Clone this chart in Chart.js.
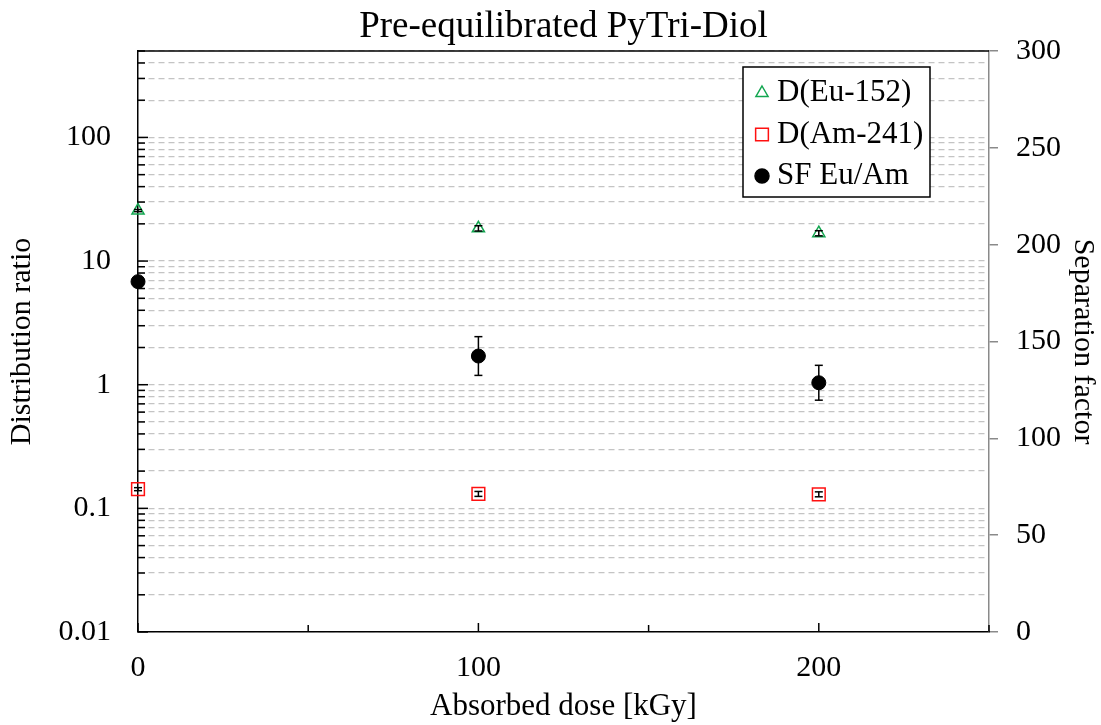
<!DOCTYPE html>
<html>
<head>
<meta charset="utf-8">
<script src="https://cdn.jsdelivr.net/npm/chart.js@4.4.1/dist/chart.umd.min.js"></script>
<style>
  html, body { margin: 0; padding: 0; background: #fff; }
</style>
</head>
<body>
<canvas id="chart" width="1101" height="725"></canvas>
<script>
// Data
const doses = [0, 100, 200];
const euD = [25.6, 18.4, 16.8];
const euErr = [0.5, 0.9, 0.8];
const amD = [0.143, 0.131, 0.130];
const amErr = [0.004, 0.006, 0.006];
const sfVals = [180.9, 142.5, 128.7];
const sfErr = [0, 10, 9];

// Axis ticks
const xTickValues = [0, 50, 100, 150, 200, 250];
const xLabels = [0, 100, 200];
const logDecades = [0.01, 0.1, 1, 10, 100];
const decadeLabels = ['0.01', '0.1', '1', '10', '100'];
const logSteps = [1, 2, 3, 4, 5, 6, 7, 8, 9];
const sfTicks = [0, 50, 100, 150, 200, 250, 300];

const TITLE = 'Pre-equilibrated PyTri-Diol';
const SERIF = "'Liberation Serif', 'Times New Roman', serif";
const GREEN = '#12a650';
const RED = '#ff1010';

// every minor/major log grid value between 0.01 and 500
const logTicks = [];
logDecades.forEach(d => logSteps.forEach(s => {
    const v = parseFloat((d * s).toPrecision(3));
    if (v <= 500) logTicks.push(v);
}));

function line(ctx, x1, y1, x2, y2) {
    ctx.beginPath();
    ctx.moveTo(x1, y1);
    ctx.lineTo(x2, y2);
    ctx.stroke();
}

// inward tick marks on left and bottom axes, top frame line, and the title over the plot
const axisTicks = {
    id: 'axisTicks',
    afterDraw(chart) {
        const { ctx, chartArea: a, scales } = chart;
        ctx.save();
        ctx.strokeStyle = '#000';
        ctx.lineWidth = 1.5;
        scales.y.ticks.forEach(t => {
            const py = scales.y.getPixelForValue(t.value);
            const len = logDecades.includes(t.value) ? 10 : 7;
            line(ctx, a.left, py, a.left + len, py);
        });
        scales.x.ticks.forEach(t => {
            const px = scales.x.getPixelForValue(t.value);
            const len = xLabels.includes(t.value) ? 9 : 7;
            line(ctx, px, a.bottom, px, a.bottom - len);
        });
        line(ctx, a.left, a.top, a.right, a.top);

        ctx.fillStyle = '#000';
        ctx.font = '37px ' + SERIF;
        ctx.textAlign = 'center';
        ctx.textBaseline = 'middle';
        ctx.fillText(TITLE, (a.left + a.right) / 2, 27);
        ctx.restore();
    }
};

// vertical error bars with caps
const errorBars = {
    id: 'errorBars',
    afterDatasetsDraw(chart) {
        const { ctx } = chart;
        ctx.save();
        ctx.strokeStyle = '#000';
        ctx.lineWidth = 1.5;
        chart.data.datasets.forEach((ds, i) => {
            const meta = chart.getDatasetMeta(i);
            const scale = chart.scales[ds.yAxisID];
            meta.data.forEach((el, j) => {
                const err = ds.errors[j];
                if (!err) return;
                const v = ds.data[j].y;
                const yTop = scale.getPixelForValue(v + err);
                const yBot = scale.getPixelForValue(v - err);
                line(ctx, el.x, yTop, el.x, yBot);
                line(ctx, el.x - 4, yTop, el.x + 4, yTop);
                line(ctx, el.x - 4, yBot, el.x + 4, yBot);
            });
        });
        ctx.restore();
    }
};

function drawMarker(ctx, style, x, y, r, fill, stroke) {
    ctx.save();
    ctx.lineWidth = 1.5;
    ctx.strokeStyle = stroke;
    ctx.fillStyle = fill;
    ctx.beginPath();
    if (style === 'triangle') {
        ctx.moveTo(x, y - r);
        ctx.lineTo(x + r * 0.866, y + r * 0.5);
        ctx.lineTo(x - r * 0.866, y + r * 0.5);
        ctx.closePath();
    } else if (style === 'rect') {
        const s = r * Math.SQRT1_2;
        ctx.rect(x - s, y - s, 2 * s, 2 * s);
    } else {
        ctx.arc(x, y, r, 0, Math.PI * 2);
    }
    if (fill !== 'transparent') ctx.fill();
    ctx.stroke();
    ctx.restore();
}

// boxed legend inside the plot, top right
const boxLegend = {
    id: 'boxLegend',
    afterDraw(chart) {
        const { ctx, chartArea: a } = chart;
        const w = 187, h = 130;
        const x0 = a.right - 59 - w, y0 = a.top + 16;
        ctx.save();
        ctx.fillStyle = '#fff';
        ctx.fillRect(x0, y0, w, h);
        ctx.strokeStyle = '#000';
        ctx.lineWidth = 1.5;
        ctx.strokeRect(x0, y0, w, h);
        ctx.font = '31px ' + SERIF;
        ctx.fillStyle = '#000';
        ctx.textBaseline = 'middle';
        chart.data.datasets.forEach((ds, i) => {
            const cy = y0 + 26 + i * 41.5;
            drawMarker(ctx, ds.pointStyle, x0 + 19, cy, ds.legendRadius, ds.backgroundColor, ds.borderColor);
            ctx.fillText(ds.label, x0 + 34, cy);
        });
        ctx.restore();
    }
};

const pts = (xs, ys) => xs.map((x, i) => ({ x: x, y: ys[i] }));

new Chart(document.getElementById('chart'), {
    type: 'scatter',
    data: {
        datasets: [
            {
                label: 'D(Eu-152)',
                data: pts(doses, euD),
                errors: euErr,
                yAxisID: 'y',
                pointStyle: 'triangle',
                pointRadius: 7,
                legendRadius: 7,
                borderWidth: 1.5,
                borderColor: GREEN,
                backgroundColor: 'transparent',
                clip: false
            },
            {
                label: 'D(Am-241)',
                data: pts(doses, amD),
                errors: amErr,
                yAxisID: 'y',
                pointStyle: 'rect',
                pointRadius: 9,
                legendRadius: 9,
                borderWidth: 1.5,
                borderColor: RED,
                backgroundColor: 'transparent',
                clip: false
            },
            {
                label: 'SF Eu/Am',
                data: pts(doses, sfVals),
                errors: sfErr,
                yAxisID: 'y2',
                pointStyle: 'circle',
                pointRadius: 7,
                legendRadius: 7,
                borderWidth: 1,
                borderColor: '#000',
                backgroundColor: '#000',
                clip: false
            }
        ]
    },
    options: {
        responsive: false,
        devicePixelRatio: 1,
        animation: false,
        layout: { padding: { top: 51, left: 0, right: 0, bottom: 0 } },
        plugins: {
            legend: { display: false },
            tooltip: { enabled: false },
            title: { display: false }
        },
        scales: {
            x: {
                type: 'linear',
                position: 'bottom',
                min: 0,
                max: 250,
                afterBuildTicks: s => { s.ticks = xTickValues.map(v => ({ value: v })); },
                afterFit: s => { s.height = 93; },
                ticks: {
                    autoSkip: false,
                    maxRotation: 0,
                    color: '#000',
                    padding: 18,
                    font: { family: SERIF, size: 30 },
                    callback: v => xLabels.includes(v) ? String(v) : ''
                },
                grid: { display: false, drawTicks: false },
                border: { display: true, color: '#000', width: 1.5 },
                title: {
                    display: true,
                    text: 'Absorbed dose [kGy]',
                    color: '#000',
                    font: { family: SERIF, size: 31 },
                    padding: 0
                }
            },
            y: {
                type: 'logarithmic',
                position: 'left',
                min: 0.01,
                max: 500,
                afterBuildTicks: s => { s.ticks = logTicks.map(v => ({ value: v, major: logDecades.includes(v) })); },
                afterFit: s => { s.width = 138; },
                ticks: {
                    autoSkip: false,
                    color: '#000',
                    padding: 27,
                    font: { family: SERIF, size: 30 },
                    callback: v => {
                        const k = logDecades.indexOf(v);
                        return k >= 0 ? decadeLabels[k] : '';
                    }
                },
                grid: { color: '#c4c4c4', lineWidth: 1.3, drawTicks: false },
                border: { display: true, color: '#000', width: 1.5, dash: [6, 4] },
                title: {
                    display: true,
                    text: 'Distribution ratio',
                    color: '#000',
                    font: { family: SERIF, size: 30 },
                    padding: { top: 4, bottom: 0 }
                }
            },
            y2: {
                type: 'linear',
                position: 'right',
                min: 0,
                max: 300,
                afterBuildTicks: s => { s.ticks = sfTicks.map(v => ({ value: v })); },
                afterFit: s => { s.width = 112; },
                ticks: {
                    color: '#000',
                    padding: 18,
                    font: { family: SERIF, size: 30 }
                },
                grid: { drawOnChartArea: false, drawTicks: true, tickLength: 9, color: '#8a8a8a', lineWidth: 1.5 },
                border: { display: true, color: '#8a8a8a', width: 1.5 },
                title: {
                    display: true,
                    text: 'Separation factor',
                    color: '#000',
                    font: { family: SERIF, size: 30 },
                    padding: { top: 0, bottom: 0 }
                }
            }
        }
    },
    plugins: [axisTicks, errorBars, boxLegend]
});
</script>
</body>
</html>
